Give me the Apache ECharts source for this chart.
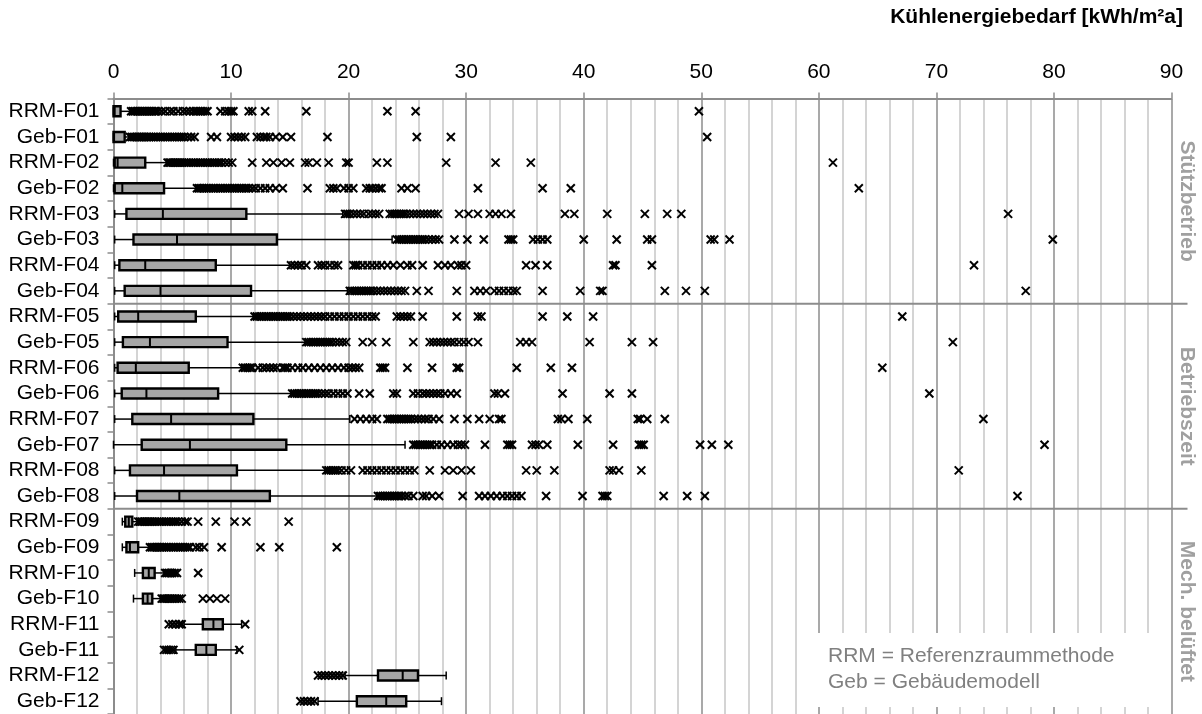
<!DOCTYPE html>
<html><head><meta charset="utf-8">
<script src="https://cdn.jsdelivr.net/npm/echarts/dist/echarts.min.js"></script>
<style>html,body{margin:0;padding:0;background:#fff}#c{width:1202px;height:714px}</style>
</head><body><div id="c"></div>
<script>
const categories = ['RRM-F01','Geb-F01','RRM-F02','Geb-F02','RRM-F03','Geb-F03','RRM-F04','Geb-F04',
  'RRM-F05','Geb-F05','RRM-F06','Geb-F06','RRM-F07','Geb-F07','RRM-F08','Geb-F08',
  'RRM-F09','Geb-F09','RRM-F10','Geb-F10','RRM-F11','Geb-F11','RRM-F12','Geb-F12'];
const whiskerLow  = [0,   0,    0,   0,   0.1, 0.1, 0.1, 0.1, 0.1, 0.1, 0.1, 0.1, 0.1, 0.0, 0.1, 0.1, 0.75, 0.75, 1.8, 1.7, 6.0, 5.3, 19.7, 17.4];
const q1          = [0,   0,    0.1, 0.1, 1.1, 1.7, 0.5, 0.95,0.4, 0.8, 0.35,0.7, 1.6, 2.4, 1.4, 2.0, 1.0,  1.1,  2.5, 2.5, 7.6, 7.0, 22.5, 20.7];
const median      = [0.1, 0.05, 0.35,0.75,4.2, 5.4, 2.7, 4.0, 2.1, 3.1, 1.9, 2.8, 4.9, 6.5, 4.3, 5.6, 1.3,  1.4,  3.0, 2.9, 8.5, 7.9, 24.6, 23.2];
const q3          = [0.6, 0.95, 2.7, 4.3, 11.3,13.9,8.7, 11.7,7.0, 9.7, 6.4, 8.9, 11.9,14.7,10.5,13.3,1.6,  2.1,  3.5, 3.3, 9.3, 8.7, 25.9, 24.9];
const whiskerHigh = [1.4, 1.3,  4.5, 7.0, 19.5,23.7,15.0,19.9,11.9,16.3,10.9,15.1,20.1,24.8,18.0,22.4,2.0,  3.0,  4.3, 4.0, 10.9,10.5,28.3, 27.9];
const outliers = [
  [1.5,1.65,1.8,1.95,2.1,2.25,2.4,2.55,2.7,2.85,3.0,3.15,3.3,3.45,3.6,3.8,4.1,4.4,4.8,5.1,5.5,5.9,6.2,6.5,6.8,7.0,7.2,7.4,7.6,7.8,8.0,9.1,9.5,9.8,10.0,10.2,11.5,11.8,12.9,16.4,23.3,25.7,49.8],
  [1.4,1.55,1.7,1.85,2.0,2.15,2.3,2.45,2.6,2.75,2.9,3.05,3.2,3.4,3.6,3.8,4.0,4.2,4.4,4.6,4.8,5.0,5.2,5.4,5.6,5.8,6.0,6.3,6.6,6.9,8.3,8.8,10.0,10.3,10.6,10.9,11.2,12.2,12.5,12.8,13.0,13.3,13.8,14.4,15.1,18.2,25.8,28.7,50.5],
  [4.6,4.75,4.9,5.05,5.2,5.35,5.5,5.65,5.8,6.0,6.2,6.4,6.6,6.8,7.0,7.2,7.4,7.6,7.8,8.0,8.2,8.4,8.6,8.8,9.0,9.2,9.5,9.8,10.1,11.8,13.0,13.6,14.3,15.0,16.3,16.6,17.3,18.3,19.8,20.0,22.4,23.3,28.3,32.5,35.5,61.2],
  [7.1,7.25,7.4,7.55,7.7,7.9,8.1,8.3,8.5,8.7,8.9,9.1,9.3,9.5,9.7,9.9,10.1,10.3,10.5,10.7,10.9,11.1,11.3,11.5,11.8,12.1,12.5,12.9,13.3,13.8,14.4,16.5,18.4,18.7,19.0,19.6,20.0,20.4,21.5,21.8,22.0,22.3,22.6,22.8,24.5,25.0,25.7,31.0,36.5,38.9,63.4],
  [19.7,19.9,20.1,20.4,20.7,21.0,21.3,21.7,22.0,22.3,22.6,23.5,23.7,23.9,24.1,24.3,24.5,24.7,24.9,25.2,25.5,25.8,26.1,26.4,26.7,27.0,27.3,27.6,29.4,30.2,31.0,32.0,32.5,33.0,33.8,38.4,39.2,42.0,45.2,47.1,48.3,76.1],
  [24.1,24.3,24.5,24.7,24.9,25.1,25.3,25.5,25.7,25.9,26.1,26.3,26.5,26.8,27.1,27.4,27.7,29.0,30.1,31.5,33.6,33.8,34.0,35.7,36.1,36.5,36.9,40.0,42.8,45.4,45.8,50.8,51.1,52.4,79.9],
  [15.1,15.4,15.7,16.0,16.4,17.4,17.7,18.0,18.4,18.8,19.1,20.4,20.6,20.8,21.2,21.6,22.0,22.4,22.8,23.3,23.8,24.4,25.0,25.4,26.3,27.6,28.2,28.7,29.3,29.6,30.0,35.1,35.9,36.9,42.5,42.7,45.8,73.2],
  [20.1,20.3,20.5,20.7,20.9,21.1,21.3,21.5,21.7,21.9,22.1,22.4,22.7,23.0,23.3,23.6,23.9,24.2,24.5,24.8,25.8,26.8,29.2,30.7,31.2,31.7,32.4,32.8,33.2,33.6,34.0,34.3,36.5,39.7,41.4,41.6,46.9,48.7,50.3,77.6],
  [12.0,12.2,12.4,12.6,12.8,13.0,13.2,13.4,13.6,13.8,14.0,14.2,14.4,14.6,14.8,15.0,15.3,15.6,15.9,16.2,16.5,16.8,17.1,17.4,17.7,18.0,18.4,18.8,19.2,19.6,20.0,20.4,20.8,21.2,21.6,22.0,22.3,24.1,24.4,24.7,25.0,25.3,26.3,29.2,31.0,31.3,36.5,38.6,40.8,67.1],
  [16.4,16.6,16.8,17.0,17.2,17.4,17.6,17.8,18.0,18.2,18.4,18.6,18.9,19.2,19.5,19.8,21.2,22.0,23.2,25.5,26.9,27.2,27.5,27.8,28.1,28.4,28.7,29.0,29.4,29.8,30.2,31.0,34.6,35.1,35.6,40.5,44.1,45.9,71.4],
  [11.0,11.2,11.4,11.6,11.8,12.3,12.7,13.0,13.3,13.6,13.9,14.4,14.6,14.8,15.2,15.7,16.1,16.6,17.1,17.6,18.1,18.6,19.1,19.6,20.0,20.3,20.6,20.9,22.7,22.9,23.1,25.0,27.1,29.2,29.4,34.3,37.2,39.0,65.4],
  [15.2,15.4,15.6,15.8,16.0,16.2,16.4,16.6,16.8,17.0,17.2,17.4,17.7,18.0,18.3,18.7,19.1,19.5,19.9,20.9,21.8,23.8,24.1,25.5,25.9,26.3,26.6,26.9,27.2,27.5,27.8,28.2,28.7,29.2,32.4,32.7,33.3,38.2,42.2,44.1,69.4],
  [20.5,21.0,21.5,22.0,22.4,23.3,23.5,23.7,23.9,24.1,24.3,24.5,24.7,24.9,25.1,25.3,25.6,25.9,26.2,26.5,26.8,27.2,27.7,29.0,30.1,31.1,32.0,32.8,33.0,37.8,38.1,38.7,40.3,44.6,44.8,45.4,46.9,74.0],
  [25.5,25.7,25.9,26.1,26.3,26.5,26.7,26.9,27.1,27.5,27.9,28.4,28.9,29.3,29.6,29.9,31.6,33.5,33.7,33.9,35.6,35.9,36.2,36.9,39.5,42.5,44.7,44.9,45.1,49.9,50.9,52.3,79.2],
  [18.1,18.3,18.5,18.7,18.9,19.1,19.4,19.8,20.2,21.2,21.6,22.0,22.4,22.8,23.2,23.6,24.0,24.4,24.8,25.2,25.6,26.9,28.2,28.9,29.6,30.4,35.1,36.0,37.5,42.2,42.5,43.0,44.9,71.9],
  [22.5,22.7,22.9,23.1,23.3,23.5,23.7,23.9,24.1,24.3,24.5,24.8,25.1,25.5,26.3,26.6,27.1,27.7,29.7,31.1,31.6,32.1,32.6,33.1,33.5,33.9,34.3,34.7,36.8,39.9,41.6,41.8,42.0,46.8,48.8,50.3,76.9],
  [2.1,2.25,2.4,2.55,2.7,2.85,3.0,3.15,3.3,3.5,3.7,3.9,4.1,4.3,4.5,4.7,4.9,5.1,5.3,5.5,5.8,6.1,6.3,7.2,8.7,10.3,11.3,14.9],
  [3.1,3.25,3.4,3.55,3.7,3.85,4.0,4.15,4.3,4.5,4.7,4.9,5.1,5.3,5.5,5.7,5.9,6.1,6.3,6.5,7.0,7.3,7.7,9.2,12.5,14.1,19.0],
  [4.4,4.55,4.7,4.85,5.0,5.2,5.4,7.2],
  [4.1,4.25,4.4,4.55,4.7,4.85,5.0,5.2,5.4,5.6,5.8,7.6,8.2,8.8,9.5],
  [4.7,5.0,5.3,5.6,5.8,11.2],
  [4.3,4.5,4.7,4.9,5.1,10.7],
  [17.4,17.7,18.0,18.3,18.6,18.9,19.2,19.5],
  [15.9,16.2,16.5,16.8,17.1]
];
const axisMin = 0, axisMax = 90, axisStep = 10;
const axisTitle = 'Kühlenergiebedarf [kWh/m²a]';
const sectionNames = ['Stützbetrieb', 'Betriebszeit', 'Mech. belüftet'];
const sectionFirst = [0, 8, 16];
const sectionLast = [7, 15, 23];
const legendLines = ['RRM = Referenzraummethode', 'Geb = Gebäudemodell'];

const FONT = '"Liberation Sans", Arial, sans-serif';
const boxData = categories.map((c, i) => [i, whiskerLow[i], q1[i], median[i], q3[i], whiskerHigh[i]]);
const outData = [];
outliers.forEach((arr, i) => arr.forEach(v => outData.push([v, i])));
const sepData = sectionFirst.slice(1).map(i => [axisMax, i]);
const secData = sectionNames.map((n, k) => [axisMax, sectionFirst[k], sectionLast[k]]);

const chart = echarts.init(document.getElementById('c'), null, {renderer: 'canvas'});
chart.setOption({
  animation: false,
  backgroundColor: '#fff',
  grid: {left: 113.5, top: 98.5, width: 1058, height: 619, containLabel: false},
  xAxis: {
    type: 'value', position: 'top', min: axisMin, max: axisMax, interval: axisStep,
    axisLine: {show: true, lineStyle: {color: '#8c8c8c', width: 2}},
    axisTick: {show: true, length: 6, lineStyle: {color: '#8c8c8c', width: 1.5}},
    axisLabel: {fontSize: 21, color: '#000', fontFamily: FONT, margin: 16},
    splitLine: {show: true, lineStyle: {color: '#8c8c8c', width: 1.5}},
    minorTick: {show: false, splitNumber: 5},
    minorSplitLine: {show: true, lineStyle: {color: '#c6c6c6', width: 1.5}}
  },
  yAxis: {
    type: 'category', inverse: true, data: categories, boundaryGap: true,
    axisLine: {show: true, lineStyle: {color: '#8c8c8c', width: 2}},
    axisTick: {show: true, length: 6, interval: 0, lineStyle: {color: '#8c8c8c', width: 1.5}},
    axisLabel: {fontSize: 21, color: '#000', fontFamily: FONT, margin: 14, interval: 0},
    splitLine: {show: false}
  },
  graphic: [
    {type: 'text', right: 19, top: 7, z: 60, style: {text: axisTitle, fill: '#000', font: 'bold 21px ' + FONT}},
    {type: 'rect', left: 798, top: 633, z: 50, shape: {width: 367, height: 74}, style: {fill: '#fff'}},
    {type: 'text', left: 828, top: 646, z: 51, style: {text: legendLines[0], fill: '#808080', font: '21px ' + FONT}},
    {type: 'text', left: 828, top: 672, z: 51, style: {text: legendLines[1], fill: '#808080', font: '21px ' + FONT}}
  ],
  series: [
    {
      type: 'custom', name: 'sep', clip: false, data: sepData, encode: {x: 0, y: 1}, z: 1,
      renderItem: (params, api) => {
        const i = api.value(1);
        const a = api.coord([axisMin, i - 1]);
        const b = api.coord([api.value(0), i]);
        const y = (a[1] + b[1]) / 2;
        return {type: 'line', shape: {x1: a[0], y1: y, x2: b[0] + 16, y2: y}, style: {stroke: '#8c8c8c', lineWidth: 2}};
      }
    },
    {
      type: 'custom', name: 'sections', clip: false, data: secData, encode: {x: 0, y: 1}, z: 3,
      renderItem: (params, api) => {
        const a = api.coord([api.value(0), api.value(1)]);
        const b = api.coord([api.value(0), api.value(2)]);
        return {type: 'text', x: a[0] + 15, y: (a[1] + b[1]) / 2, rotation: -Math.PI / 2,
          style: {text: sectionNames[params.dataIndex], fill: '#a0a0a0', font: 'bold 21px ' + FONT,
            align: 'center', verticalAlign: 'middle', textAlign: 'center', textVerticalAlign: 'middle'}};
      }
    },
    {
      type: 'custom', name: 'box', clip: false, data: boxData, encode: {x: [1, 2, 3, 4, 5], y: 0}, z: 4,
      renderItem: (params, api) => {
        const i = api.value(0);
        const lo = api.coord([api.value(1), i]);
        const a = api.coord([api.value(2), i]);
        const m = api.coord([api.value(3), i]);
        const b = api.coord([api.value(4), i]);
        const hi = api.coord([api.value(5), i]);
        const y = lo[1], bh = 10, ch = 8;
        const ls = {stroke: '#000', lineWidth: 1.5};
        return {type: 'group', children: [
          {type: 'line', shape: {x1: lo[0], y1: y, x2: a[0], y2: y}, style: ls},
          {type: 'line', shape: {x1: b[0], y1: y, x2: hi[0], y2: y}, style: ls},
          {type: 'line', shape: {x1: lo[0], y1: y - ch / 2, x2: lo[0], y2: y + ch / 2}, style: ls},
          {type: 'line', shape: {x1: hi[0], y1: y - ch / 2, x2: hi[0], y2: y + ch / 2}, style: ls},
          {type: 'rect', shape: {x: a[0], y: y - bh / 2, width: b[0] - a[0], height: bh}, style: {fill: '#a6a6a6', stroke: '#000', lineWidth: 2.4}},
          {type: 'line', shape: {x1: m[0], y1: y - bh / 2, x2: m[0], y2: y + bh / 2}, style: {stroke: '#000', lineWidth: 2}}
        ]};
      }
    },
    {
      type: 'custom', name: 'outliers', clip: false, data: outData, encode: {x: 0, y: 1}, z: 5,
      renderItem: (params, api) => {
        const p = api.coord([api.value(0), api.value(1)]);
        const r = 4;
        const st = {stroke: '#000', lineWidth: 2};
        return {type: 'group', children: [
          {type: 'line', shape: {x1: p[0] - r, y1: p[1] - r, x2: p[0] + r, y2: p[1] + r}, style: st},
          {type: 'line', shape: {x1: p[0] - r, y1: p[1] + r, x2: p[0] + r, y2: p[1] - r}, style: st}
        ]};
      }
    }
  ]
});
</script></body></html>
